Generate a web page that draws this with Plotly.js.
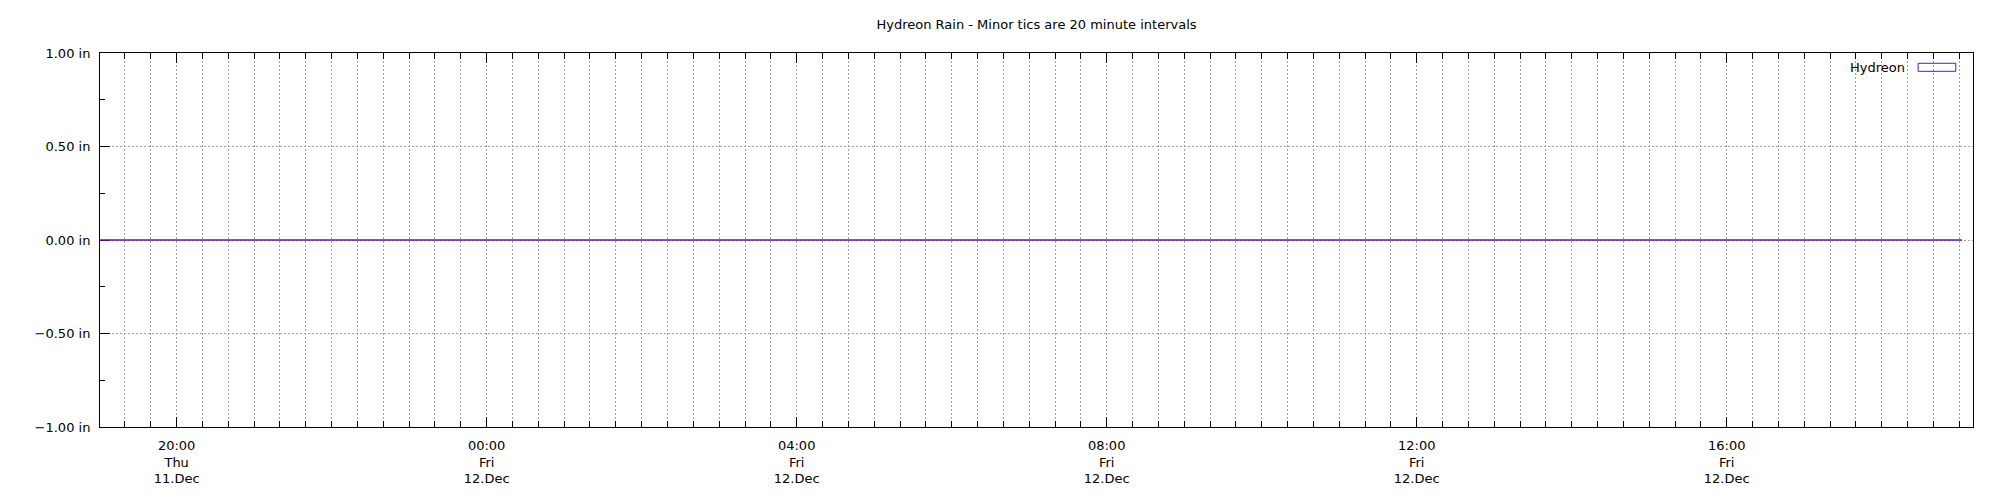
<!DOCTYPE html>
<html>
<head>
<meta charset="utf-8">
<script src="https://cdn.plot.ly/plotly-3.0.1.min.js"></script>
<style>html,body{margin:0;padding:0;background:#fff;}#chart{width:2000px;height:500px;}</style>
</head>
<body>
<div id="chart"></div>
<script>
// Data
const seriesName = "Hydreon";
const times = [
  "2025-12-11 19:00:00", "2025-12-11 21:00:00", "2025-12-11 23:00:00",
  "2025-12-12 01:00:00", "2025-12-12 03:00:00", "2025-12-12 05:00:00",
  "2025-12-12 07:00:00", "2025-12-12 09:00:00", "2025-12-12 11:00:00",
  "2025-12-12 13:00:00", "2025-12-12 15:00:00", "2025-12-12 17:00:00",
  "2025-12-12 19:02:00"
];
const rainInches = [0, 0, 0, 0, 0, 0, 0, 0, 0, 0, 0, 0, 0];
const xRange = ["2025-12-11 19:00:40", "2025-12-12 19:10:40"];
const yRange = [-1, 1];
const xTickVals = ["2025-12-11 20:00", "2025-12-12 00:00", "2025-12-12 04:00",
                   "2025-12-12 08:00", "2025-12-12 12:00", "2025-12-12 16:00"];
const xTickText = ["20:00<br>Thu<br>11.Dec", "00:00<br>Fri<br>12.Dec", "04:00<br>Fri<br>12.Dec",
                   "08:00<br>Fri<br>12.Dec", "12:00<br>Fri<br>12.Dec", "16:00<br>Fri<br>12.Dec"];
const titleText = "Hydreon Rain - Minor tics are 20 minute intervals";

const lineColor = "#6a0dcc";
const gridColor = "#a0a0a0";
const fontFam = "DejaVu Sans, sans-serif";
const fs = 13;

const trace = {
  x: times, y: rainInches, type: "scatter", mode: "lines",
  name: seriesName, line: {color: lineColor, width: 1.3}, showlegend: false
};

const layout = {
  width: 2000, height: 500,
  margin: {l: 100, r: 27, t: 53, b: 73},
  paper_bgcolor: "#fff", plot_bgcolor: "#fff",
  font: {family: fontFam, size: fs, color: "#000"},
  title: {text: titleText, font: {family: fontFam, size: fs, color: "#000"},
          xref: "paper", x: 0.5, xanchor: "center", yref: "container", y: 0.952, yanchor: "middle"},
  xaxis: {
    type: "date", range: xRange, layer: "below traces",
    tickmode: "array", tickvals: xTickVals, ticktext: xTickText,
    ticks: "inside", ticklen: 10, tickwidth: 1, tickcolor: "#000",
    ticklabelstandoff: 6,
    showline: true, linecolor: "#000", linewidth: 1, mirror: "ticks",
    showgrid: true, gridcolor: gridColor, gridwidth: 1, griddash: "2px,2px",
    zeroline: false,
    minor: {dtick: 1200000, tick0: "2025-12-11 00:00", ticks: "inside", ticklen: 6, tickcolor: "#000",
            showgrid: true, gridcolor: gridColor, gridwidth: 1, griddash: "2px,2px"},
    tickfont: {family: fontFam, size: fs, color: "#000"}
  },
  yaxis: {
    range: yRange, tickmode: "linear", tick0: 0, dtick: 0.5, layer: "below traces",
    tickformat: ".2f", ticksuffix: " in",
    ticks: "inside", ticklen: 10, tickwidth: 1, tickcolor: "#000",
    ticklabelstandoff: 6,
    showline: true, linecolor: "#000", linewidth: 1, mirror: true,
    showgrid: true, gridcolor: gridColor, gridwidth: 1, griddash: "2px,2px",
    zeroline: false,
    minor: {dtick: 0.25, ticks: "inside", ticklen: 5, tickcolor: "#000", showgrid: false},
    tickfont: {family: fontFam, size: fs, color: "#000"}
  },
  showlegend: false,
  annotations: [{
    text: seriesName, xref: "paper", yref: "paper", x: 0.9646, y: 0.9607,
    xanchor: "right", yanchor: "middle", showarrow: false,
    font: {family: fontFam, size: fs, color: "#000"}
  }],
  shapes: [{
    type: "rect", xref: "paper", yref: "paper",
    x0: 0.9707, x1: 0.9908, y0: 0.951, y1: 0.9725,
    line: {color: lineColor, width: 1}, fillcolor: "rgba(0,0,0,0)"
  }]
};

Plotly.newPlot("chart", [trace], layout, {displayModeBar: false, staticPlot: true});
</script>
</body>
</html>
